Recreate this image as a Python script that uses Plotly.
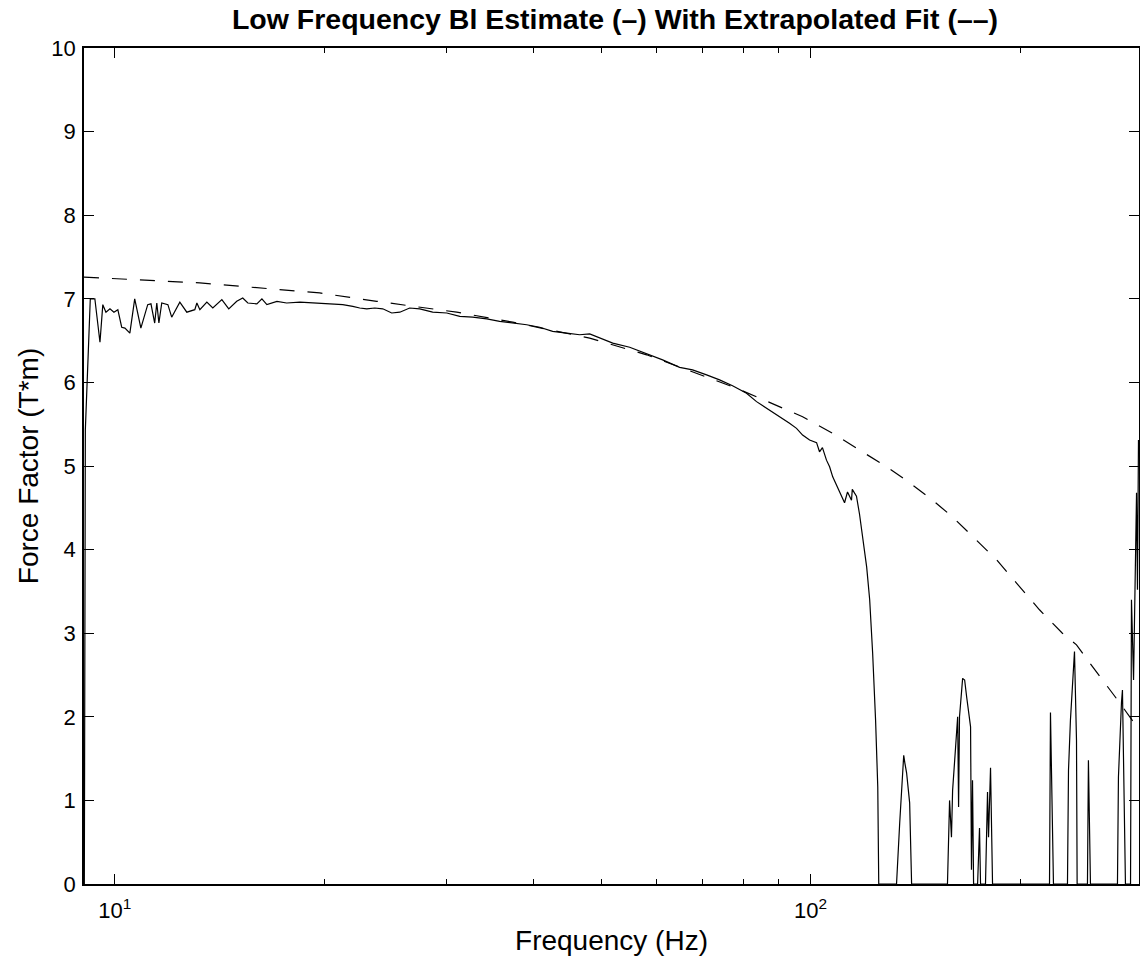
import numpy as np
import plotly.graph_objects as go

# measured Bl estimate (solid)
freq_est = [9.04, 9.07, 9.22, 9.36, 9.52, 9.61, 9.71, 9.84, 9.97, 10.10,
            10.23, 10.34, 10.51, 10.68, 10.90, 11.15, 11.27, 11.41, 11.49, 11.57,
            11.68, 11.92, 12.07, 12.40, 12.69, 13.03, 13.12, 13.25, 13.56, 13.83,
            14.25, 14.58, 14.97, 15.27, 15.53, 16.00, 16.27, 16.54, 17.10, 17.66,
            18.45, 19.25, 19.91, 20.57, 21.26, 21.98, 22.49, 23.02, 23.64, 24.27,
            25.00, 25.68, 26.53, 27.43, 28.63, 30.00, 31.32, 32.69, 34.24, 35.74,
            37.32, 39.08, 40.80, 42.59, 44.61, 46.57, 48.14, 49.76, 51.96, 54.95,
            58.13, 61.28, 64.83, 67.67, 70.88, 73.99, 77.24, 80.90, 83.62, 87.34,
            90.24, 93.27, 95.45, 97.39, 99.67, 102.0, 103.0, 104.0, 105.4, 106.5,
            107.6, 109.0, 110.8, 111.9, 113.0, 114.5, 114.8, 116.4, 117.6, 118.8,
            120.4, 121.6, 122.8, 124.0, 124.9, 125.3, 132.9, 134.3, 135.6, 136.1,
            136.6, 137.4, 138.8, 139.7, 157.3, 158.4, 159.4, 160.0, 161.6, 162.7,
            163.2, 163.7, 165.4, 166.5, 167.6, 168.1, 169.8, 170.3, 170.9, 171.5,
            173.8, 174.9, 175.5, 178.4, 179.6, 180.2, 181.4, 182.6, 220.5, 221.2,
            221.9, 223.4, 234.0, 234.8, 236.3, 239.5, 241.1, 241.6, 250.0, 250.8,
            252.5, 276.1, 277.0, 278.9, 279.8, 280.7, 281.6, 282.6, 283.5, 288.3,
            289.2, 291.2, 293.1, 294.1, 295.0, 296.0]
bl_est = [0.00, 5.43, 7.00, 7.00, 6.48, 6.93, 6.84, 6.88, 6.84, 6.87,
          6.66, 6.65, 6.59, 7.00, 6.65, 6.93, 6.94, 6.71, 6.95, 6.71,
          6.95, 6.93, 6.78, 6.96, 6.84, 6.87, 6.95, 6.87, 6.96, 6.89,
          6.99, 6.88, 6.97, 7.01, 6.95, 6.94, 7.00, 6.93, 6.97, 6.95,
          6.96, 6.95, 6.94, 6.94, 6.93, 6.91, 6.89, 6.88, 6.89, 6.88,
          6.83, 6.84, 6.89, 6.88, 6.84, 6.83, 6.79, 6.78, 6.76, 6.73,
          6.71, 6.69, 6.66, 6.61, 6.59, 6.57, 6.58, 6.53, 6.47, 6.42,
          6.34, 6.27, 6.18, 6.15, 6.09, 6.03, 5.96, 5.87, 5.77, 5.67,
          5.59, 5.51, 5.45, 5.37, 5.31, 5.28, 5.17, 5.22, 5.07, 4.99,
          4.87, 4.77, 4.63, 4.56, 4.69, 4.59, 4.72, 4.64, 4.42, 4.15,
          3.79, 3.40, 2.76, 1.96, 1.16, 0.00, 0.00, 0.73, 1.40, 1.54,
          1.45, 1.33, 0.97, 0.00, 0.00, 1.00, 0.56, 1.12, 1.64, 2.00,
          0.92, 2.00, 2.46, 2.44, 2.24, 2.14, 1.88, 0.17, 1.24, 0.00,
          0.00, 0.67, 0.00, 0.00, 1.10, 0.56, 1.39, 0.00, 0.00, 2.05,
          1.33, 0.00, 0.00, 1.36, 1.96, 2.78, 1.72, 0.00, 0.00, 1.48,
          0.00, 0.00, 1.28, 1.96, 2.17, 2.32, 1.64, 1.09, 0.00, 0.00,
          3.40, 2.44, 4.35, 4.68, 3.52, 5.31]

# extrapolated fit (dashed)
freq_fit = [9.03, 13.25, 19.70, 23.79, 31.00, 37.32, 48.14, 58.13, 78.29, 97.4,
            107.6, 117.6, 128.6, 138.8, 149.8, 160.0, 173.2, 185.0, 197.7, 213.3,
            230.1, 241.1, 254.2, 266.3, 278.0, 292.1]
bl_fit = [7.26, 7.19, 7.07, 6.97, 6.84, 6.72, 6.53, 6.33, 5.93, 5.59,
          5.39, 5.19, 4.99, 4.80, 4.59, 4.39, 4.11, 3.88, 3.60, 3.28,
          3.00, 2.86, 2.60, 2.38, 2.17, 1.92]

y_ticks = list(range(0, 11))
x_major = [10, 100]
x_major_labels = ['10<sup>1</sup>', '10<sup>2</sup>']
x_minor = [20, 30, 40, 50, 60, 70, 80, 90, 200]

FONT = 'Liberation Sans, Arial, Helvetica, sans-serif'

W, H = 1140, 962

fig = go.Figure()
fig.add_trace(go.Scatter(x=freq_est, y=bl_est, mode='lines',
                         line=dict(color='black', width=1.2), showlegend=False))
fig.add_trace(go.Scatter(x=freq_fit, y=bl_fit, mode='lines',
                         line=dict(color='black', width=1.2, dash='15px,13px'),
                         showlegend=False))

fig.update_layout(
    width=W,
    height=H,
    margin=dict(l=84, r=1, t=48, b=78),
    paper_bgcolor='white',
    plot_bgcolor='white',
    font=dict(family=FONT, color='black', size=22),
    title=dict(
        text='<b>Low Frequency Bl Estimate (–) With Extrapolated Fit (––)</b>',
        font=dict(family=FONT, size=28.5, color='black'),
        x=615 / W, xref='container', xanchor='center',
        y=1 - 19.5 / H, yref='container', yanchor='middle',
    ),
    xaxis=dict(
        type='log',
        range=[np.log10(9.03), np.log10(296.5)],
        tickmode='array',
        tickvals=x_major,
        ticktext=x_major_labels,
        ticks='inside',
        ticklen=10,
        tickwidth=1,
        tickcolor='black',
        ticklabelstandoff=6,
        showline=True,
        linecolor='black',
        linewidth=1.5,
        mirror='ticks',
        showgrid=False,
        zeroline=False,
        tickfont=dict(size=22),
        minor=dict(tickmode='array', tickvals=x_minor, ticks='inside',
                   ticklen=5, tickcolor='black', tickwidth=1, showgrid=False),
        title=dict(text='Frequency (Hz)', font=dict(size=28), standoff=8),
        automargin=False,
    ),
    yaxis=dict(
        range=[0, 10],
        tickmode='array',
        tickvals=y_ticks,
        ticks='inside',
        ticklen=10,
        tickwidth=1,
        tickcolor='black',
        ticklabelstandoff=2,
        showline=True,
        linecolor='black',
        linewidth=1.5,
        mirror='ticks',
        showgrid=False,
        zeroline=False,
        tickfont=dict(size=22),
        title=dict(text='Force Factor (T*m)', font=dict(size=28), standoff=5),
        automargin=False,
    ),
)

# drop the default page margin and scrollbars so the figure fills the window
fig.write_html("out.html", config={'displayModeBar': False},
               post_script="document.body.style.margin='0';"
                           "document.documentElement.style.overflow='hidden';"
                           "document.body.style.overflow='hidden';")
